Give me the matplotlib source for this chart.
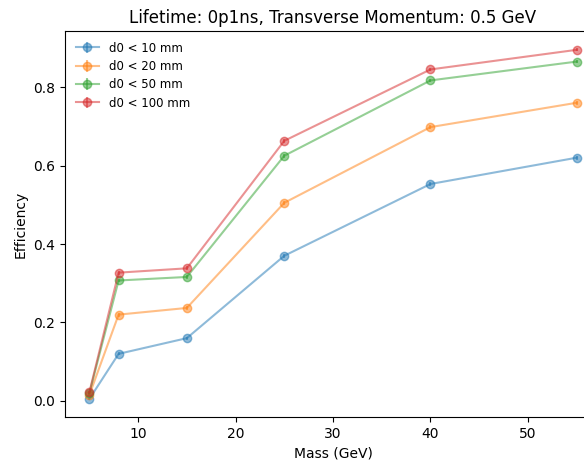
import matplotlib
matplotlib.use("Agg")
import matplotlib.pyplot as plt

# --------------------------------------------------------------------
mass = [5, 8, 15, 25, 40, 55]
labels = ["d0 < 10 mm", "d0 < 20 mm", "d0 < 50 mm", "d0 < 100 mm"]
eff_10 = [0.005, 0.120, 0.160, 0.370, 0.553, 0.620]
eff_20 = [0.015, 0.220, 0.237, 0.505, 0.698, 0.760]
eff_50 = [0.020, 0.307, 0.316, 0.625, 0.817, 0.865]
eff_100 = [0.022, 0.327, 0.338, 0.663, 0.845, 0.895]
err_10 = [0.003, 0.004, 0.004, 0.005, 0.005, 0.005]
err_20 = [0.004, 0.005, 0.005, 0.005, 0.005, 0.005]
err_50 = [0.004, 0.005, 0.005, 0.005, 0.004, 0.004]
err_100 = [0.004, 0.005, 0.005, 0.005, 0.004, 0.004]
# --------------------------------------------------------------------

fig = plt.figure(figsize=(5.84, 4.62), dpi=100)
ax = fig.add_axes([65 / 584, 45 / 462, 536 / 584, 386 / 462])

series = [(eff_10, err_10), (eff_20, err_20), (eff_50, err_50), (eff_100, err_100)]
for (vals, errs), lab in zip(series, labels):
    ax.errorbar(mass, vals, yerr=errs, marker="o", alpha=0.5, label=lab)

ax.set_xlim(2.5, 57.5)
ax.set_ylim(-0.041, 0.943)
ax.set_xticks([10, 20, 30, 40, 50])
ax.set_yticks([0.0, 0.2, 0.4, 0.6, 0.8])
ax.set_xlabel("Mass (GeV)")
ax.set_ylabel("Efficiency")
ax.set_title("Lifetime: 0p1ns, Transverse Momentum: 0.5 GeV")
ax.legend(loc="upper left", frameon=False, fontsize=8.5, labelspacing=0.45)

fig.savefig("out.png", dpi=100)
